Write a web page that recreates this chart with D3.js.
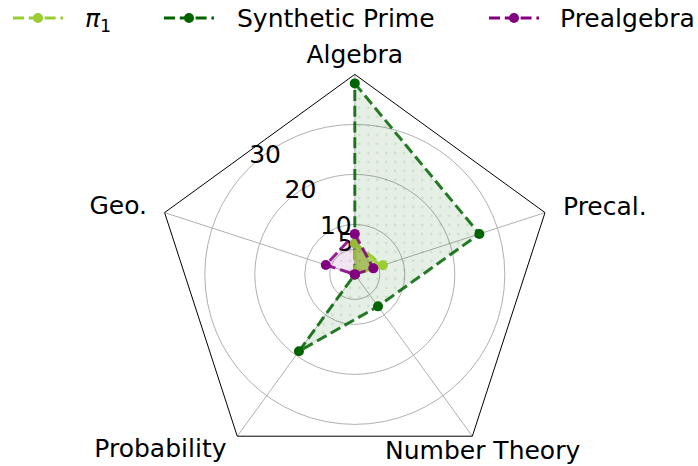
<!DOCTYPE html>
<html>
<head>
<meta charset="utf-8">
<script src="https://cdn.jsdelivr.net/npm/d3@7/dist/d3.min.js"></script>
<style>
  html, body { margin: 0; padding: 0; background: #ffffff; }
  svg { display: block; }
  text { font-family: "DejaVu Sans", sans-serif; }
</style>
</head>
<body>
<svg id="chart" width="698" height="466"></svg>
<script>
// ---- data ----
const categories = ["Algebra", "Precal.", "Number Theory", "Probability", "Geo."];
const seriesNames = ["π1", "Synthetic Prime", "Prealgebra"];
const pi1Values = [6.2, 5.9, 0, 0, 0];
const syntheticPrimeValues = [38.2, 26.2, 7.9, 19.0, 0];
const prealgebraValues = [8.1, 3.9, 0, 0, 6.1];
const radialTicks = [5, 10, 20, 30];
const radialMax = 40;

// ---- layout ----
const W = 698, H = 466;
const cx = 354.8, cy = 274.4, R = 200;
const svg = d3.select("#chart");

const rScale = d3.scaleLinear().domain([0, radialMax]).range([0, R]);
const angle = d3.scaleLinear().domain([0, categories.length]).range([0, 2 * Math.PI]);

const pt = (i, v) => {
  const a = angle(i), r = rScale(v);
  return [cx + r * Math.sin(a), cy - r * Math.cos(a)];
};

const defs = svg.append("defs");
function dotPattern(id, color) {
  const p = defs.append("pattern").attr("id", id)
    .attr("patternUnits", "userSpaceOnUse").attr("width", 9).attr("height", 9);
  p.append("circle").attr("cx", 4.5).attr("cy", 4.5).attr("r", 1.1)
    .attr("fill", color).attr("fill-opacity", 0.18);
}
dotPattern("dotsGreen", "#006400");
dotPattern("dotsPurple", "#800080");

const g = svg.append("g");

// grid circles
g.selectAll("circle.grid").data(radialTicks).join("circle")
  .attr("cx", cx).attr("cy", cy).attr("r", d => rScale(d))
  .attr("fill", "none").attr("stroke", "#b0b0b0").attr("stroke-width", 1);

// spokes
g.selectAll("line.spoke").data(categories).join("line")
  .attr("x1", cx).attr("y1", cy)
  .attr("x2", (d, i) => pt(i, radialMax)[0])
  .attr("y2", (d, i) => pt(i, radialMax)[1])
  .attr("stroke", "#b0b0b0").attr("stroke-width", 1);

// frame pentagon
g.append("path")
  .attr("d", d3.lineRadial().angle((d, i) => angle(i)).radius(() => R).curve(d3.curveLinearClosed)(categories))
  .attr("transform", `translate(${cx},${cy})`)
  .attr("fill", "none").attr("stroke", "#000").attr("stroke-width", 1);

// radial tick labels (at 135deg, upper-left diagonal)
g.selectAll("text.rtick").data(radialTicks).join("text")
  .attr("x", d => cx - rScale(d) * Math.SQRT1_2 + 0.5)
  .attr("y", d => cy - rScale(d) * Math.SQRT1_2 - 5.5)
  .attr("font-size", 25).attr("fill", "#000")
  .text(d => d);

// series
const series = [
  { name: seriesNames[1], values: syntheticPrimeValues, line: "#006400", lineOpacity: 0.85, fill: "#006400", fillOpacity: 0.1, pattern: "url(#dotsGreen)" },
  { name: seriesNames[0], values: pi1Values, line: "#9acd32", lineOpacity: 1, fill: "#9acd32", fillOpacity: 0.75, pattern: null },
  { name: seriesNames[2], values: prealgebraValues, line: "#800080", lineOpacity: 0.85, fill: "#800080", fillOpacity: 0.1, pattern: "url(#dotsPurple)" }
];

const radial = d3.lineRadial()
  .angle((d, i) => angle(i))
  .radius(d => rScale(d))
  .curve(d3.curveLinearClosed);

series.forEach(s => {
  const sg = g.append("g").attr("transform", `translate(${cx},${cy})`);
  sg.append("path").attr("d", radial(s.values))
    .attr("fill", s.fill).attr("fill-opacity", s.fillOpacity).attr("stroke", "none");
  if (s.pattern) {
    sg.append("path").attr("d", radial(s.values)).attr("fill", s.pattern).attr("stroke", "none");
  }
  sg.append("path").attr("d", radial(s.values))
    .attr("fill", "none").attr("stroke", s.line).attr("stroke-opacity", s.lineOpacity)
    .attr("stroke-width", 3).attr("stroke-dasharray", "11,4.8").attr("stroke-linejoin", "miter");
  sg.selectAll("circle.m").data(s.values).join("circle")
    .attr("cx", (d, i) => rScale(d) * Math.sin(angle(i)))
    .attr("cy", (d, i) => -rScale(d) * Math.cos(angle(i)))
    .attr("r", 5).attr("fill", s.line);
});

// category labels
const catPos = [
  { x: cx, y: 63, anchor: "middle" },
  { x: 563, y: 215, anchor: "start" },
  { x: 385, y: 459, anchor: "start" },
  { x: 226.5, y: 457, anchor: "end" },
  { x: 147, y: 214, anchor: "end" }
];
g.selectAll("text.cat").data(categories).join("text")
  .attr("x", (d, i) => catPos[i].x).attr("y", (d, i) => catPos[i].y)
  .attr("text-anchor", (d, i) => catPos[i].anchor)
  .attr("font-size", 25).attr("fill", "#000")
  .text(d => d);

// legend
const legendItems = [
  { name: seriesNames[0], color: "#9acd32", hx: 38, tx: 85 },
  { name: seriesNames[1], color: "#006400", hx: 189, tx: 237 },
  { name: seriesNames[2], color: "#800080", hx: 514, tx: 560 }
];
const ly = 18;
const lg = svg.append("g");
legendItems.forEach(it => {
  lg.append("line").attr("x1", it.hx - 25).attr("x2", it.hx + 25).attr("y1", ly).attr("y2", ly)
    .attr("stroke", it.color).attr("stroke-width", 3.2).attr("stroke-dasharray", "11,4.8");
  lg.append("circle").attr("cx", it.hx).attr("cy", ly).attr("r", 5).attr("fill", it.color);
  const t = lg.append("text").attr("x", it.tx).attr("y", ly + 9).attr("font-size", 25).attr("fill", "#000");
  if (it.name === "π1") {
    t.append("tspan").attr("font-style", "italic").text("π");
    t.append("tspan").attr("font-size", 17.5).attr("dy", 5).text("1");
  } else {
    t.text(it.name);
  }
});
</script>
</body>
</html>
